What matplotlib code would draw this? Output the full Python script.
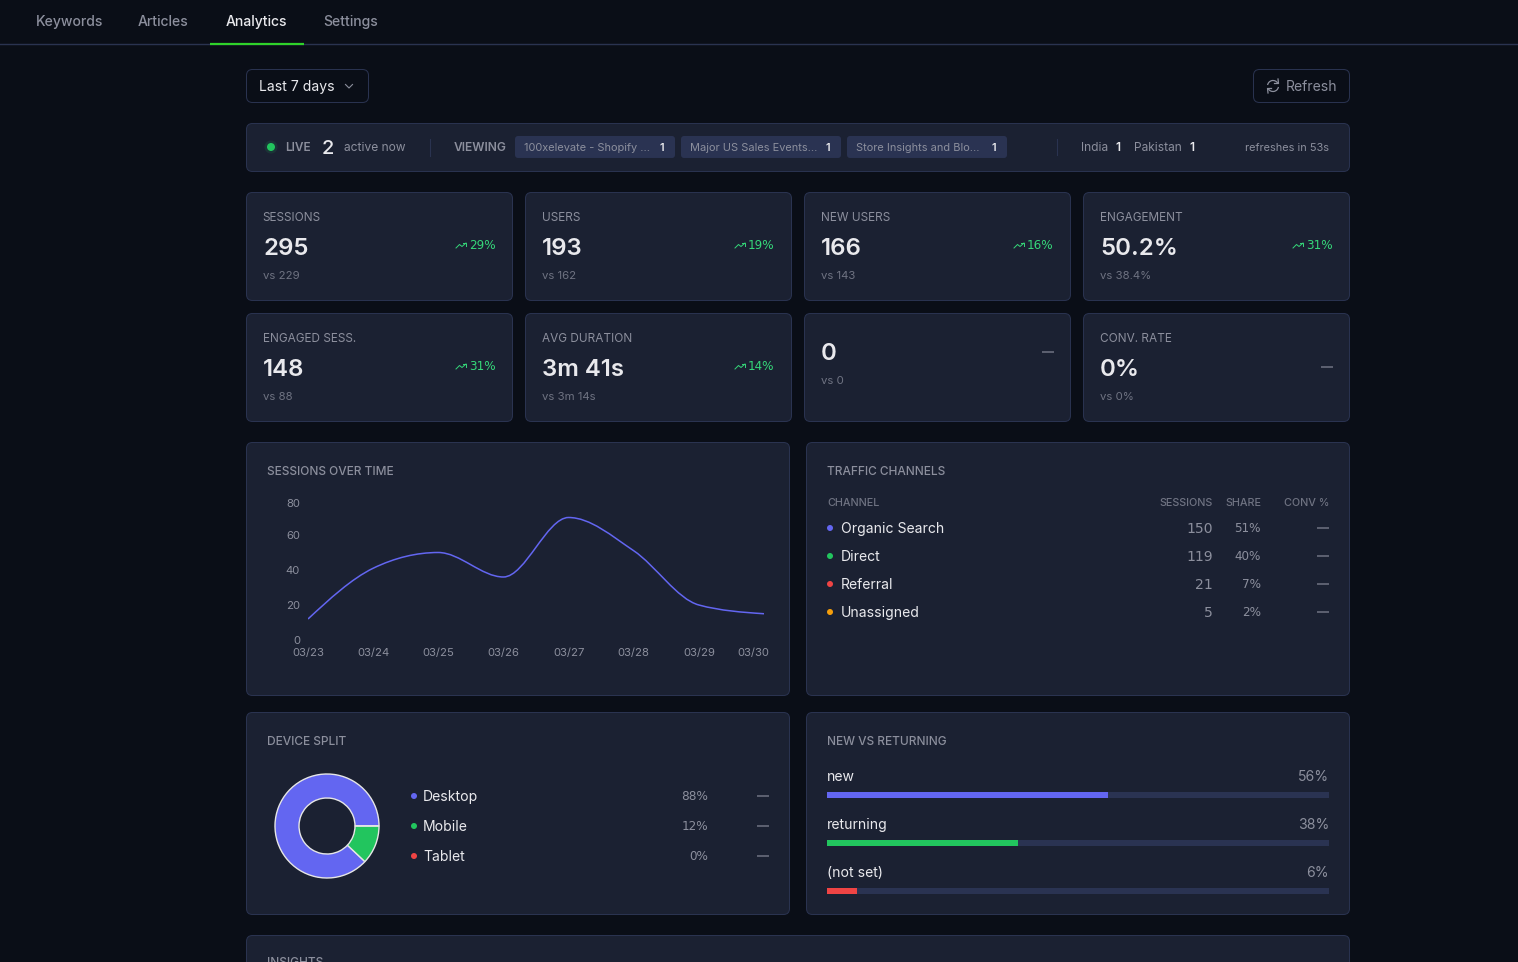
import matplotlib
matplotlib.use('Agg')
import matplotlib.pyplot as plt
from matplotlib.patches import FancyBboxPatch, Circle, Arc
from matplotlib.path import Path
from matplotlib.patches import PathPatch
from matplotlib.transforms import ScaledTranslation

plt.rcParams['font.family'] = ['Inter', 'DejaVu Sans']

# data
tabs = ['Keywords', 'Articles', 'Analytics', 'Settings']
kpi_labels = ['SESSIONS', 'USERS', 'NEW USERS', 'ENGAGEMENT', 'ENGAGED SESS.', 'AVG DURATION', '', 'CONV. RATE']
kpi_values = ['295', '193', '166', '50.2%', '148', '3m 41s', '0', '0%']
kpi_prev = ['vs 229', 'vs 162', 'vs 143', 'vs 38.4%', 'vs 88', 'vs 3m 14s', 'vs 0', 'vs 0%']
kpi_delta = ['29%', '19%', '16%', '31%', '31%', '14%', None, None]

days = ['03/23', '03/24', '03/25', '03/26', '03/27', '03/28', '03/29', '03/30']
sessions = [12, 41, 50, 36, 70, 51, 20, 15]
y_ticks = [0, 20, 40, 60, 80]

channels = ['Organic Search', 'Direct', 'Referral', 'Unassigned']
channel_sessions = [150, 119, 21, 5]
channel_share = ['51%', '40%', '7%', '2%']

devices = ['Desktop', 'Mobile', 'Tablet']
device_share = [88, 12, 0]

visitor_types = ['new', 'returning', '(not set)']
visitor_share = [56, 38, 6]

pages = ['100xelevate - Shopify ...', 'Major US Sales Events...', 'Store Insights and Blo...']
page_counts = [1, 1, 1]

BG = '#0a0e17'
CARD = '#1b2132'
BORDER = '#2a3350'
WHITE = '#e9e9ed'
MUTED = '#8c8f9d'
DIM = '#6f7382'
PURPLE = '#6366f1'
GREEN = '#22c55e'
RED = '#ef4444'
AMBER = '#f59e0b'
series_colors = [PURPLE, GREEN, RED, AMBER]

W, H = 1518, 962
fig = plt.figure(figsize=((W + 0.01) / 100, (H + 0.01) / 100), dpi=100, facecolor=BG)
ax = fig.add_axes([0, 0, 1, 1])
ax.set_xlim(0, W)
ax.set_ylim(H, 0)
ax.axis('off')


def px(size):
    return size * 0.72


def label(x, y, s, size=12, color=WHITE, ha='left', weight='normal', family=None):
    # baseline placement so descenders don't move the text around
    ax.text(x, y + 0.3635 * size, s, fontsize=px(size), color=color, ha=ha, va='baseline',
            fontweight=weight, family=family)


def box(x0, y0, x1, y1, fc=CARD, ec=BORDER, r=6, lw=1):
    ax.add_patch(FancyBboxPatch((x0, y0), x1 - x0, y1 - y0, boxstyle=f'round,pad=0,rounding_size={r}',
                                fc=fc, ec=ec, lw=lw * 0.72))


def inset(x0, y0, x1, y1):
    a = fig.add_axes([x0 / W, 1 - y1 / H, (x1 - x0) / W, (y1 - y0) / H])
    a.patch.set_alpha(0)
    return a


def dash(x0, x1, y):
    ax.plot([x0, x1], [y, y], color=DIM, lw=1.1, solid_capstyle='butt')


# top nav
tab_x = [36, 138, 226, 323]
for t, x in zip(tabs, tab_x):
    label(x, 21, t, 14, WHITE if t == 'Analytics' else MUTED, weight='medium')
ax.plot([0, W], [44.5, 44.5], color=BORDER, lw=1)
ax.plot([210, 304], [44, 44], color='#2fd22a', lw=1.6, solid_capstyle='butt')

# date picker and refresh
box(246.5, 69.5, 368.5, 102.5, fc=BG)
label(259, 86, 'Last 7 days', 14)
ax.plot([345.5, 349, 352.5], [84.5, 88, 84.5], color=MUTED, lw=0.8)
box(1253.5, 69.5, 1349.5, 102.5, fc=BG)
label(1286, 86, 'Refresh', 14, MUTED)
ax.add_patch(Arc((1273, 86), 11, 11, theta1=190, theta2=330, color=MUTED, lw=0.9))
ax.add_patch(Arc((1273, 86), 11, 11, theta1=10, theta2=150, color=MUTED, lw=0.9))
ax.plot([1278, 1278.5, 1274.5], [79, 83.5, 83.5], color=MUTED, lw=0.9)
ax.plot([1268, 1267.5, 1271.5], [93, 88.5, 88.5], color=MUTED, lw=0.9)

# live strip
box(246.5, 123.5, 1349.5, 171.5)
ax.add_patch(Circle((271, 147), 6.5, fc=GREEN, alpha=0.12, ec='none'))
ax.add_patch(Circle((271, 147), 4, fc=GREEN, ec='none'))
label(285, 147, 'LIVE', 11.8, MUTED, weight='semibold')
label(322, 147, '2', 20, WHITE, weight='medium')
label(344, 147, 'active now', 12, MUTED)
ax.plot([429.5, 429.5], [139, 156], color=BORDER, lw=0.8)
label(454, 147, 'VIEWING', 12, MUTED, weight='semibold')
for i, (p, c) in enumerate(zip(pages, page_counts)):
    x0 = 515 + i * 166
    box(x0, 136, x0 + 160, 158, fc='#2a3352', ec='none', r=3)
    label(x0 + 8.5, 147, p, 11, MUTED)
    label(x0 + 149, 147, str(c), 11, WHITE, ha='right', weight='semibold')
ax.plot([1056.5, 1056.5], [139, 155], color=BORDER, lw=0.8)
label(1081, 147, 'India', 12, MUTED)
label(1118, 147, '1', 12, WHITE, ha='center', weight='semibold')
label(1134, 147, 'Pakistan', 12, MUTED)
label(1192, 147, '1', 12, WHITE, ha='center', weight='semibold')
label(1329, 147, 'refreshes in 53s', 11, MUTED, ha='right')

# kpi cards
card_x = [246.5, 525.5, 804.5, 1083.5]
card_y = [192.5, 313.5]
for i in range(8):
    x0 = card_x[i % 4]
    y0 = card_y[i // 4]
    box(x0, y0, x0 + 266, y0 + 108)
    has_label = kpi_labels[i] != ''
    vy = y0 + 54 if has_label else y0 + 37.5
    py = y0 + 82.5 if has_label else y0 + 66.5
    if has_label:
        label(x0 + 16, y0 + 24.5, kpi_labels[i], 11.8, MUTED)
    label(x0 + 16.5, vy, kpi_values[i], 24, WHITE, weight='semibold')
    label(x0 + 16.5, py, kpi_prev[i], 11.4, DIM)
    if kpi_delta[i]:
        label(x0 + 249, vy - 2, kpi_delta[i], 12, '#35d779', ha='right', family='DejaVu Sans')
        ix = x0 + 209.5
        iy = vy - 1
        ax.plot([ix, ix + 3.5, ix + 6, ix + 10], [iy + 2.5, iy - 1, iy + 1, iy - 2.5], color='#35d779', lw=0.7)
        ax.plot([ix + 7, ix + 10, ix + 10], [iy - 2.5, iy - 2.5, iy + 0.5], color='#35d779', lw=0.7)
    else:
        dash(x0 + 237, x0 + 249, vy + 1 if not has_label else vy)

# sessions over time
box(246.5, 442.5, 789.5, 695.5)
label(267, 471, 'SESSIONS OVER TIME', 11.9, MUTED, weight='medium')
lc = inset(308, 500, 764, 640)
lc.set_xlim(0, len(days) - 1)
lc.set_ylim(0, 80)

# monotone cubic through the daily values, same curve type the dashboard uses
xs = list(range(len(sessions)))
slopes = [sessions[i + 1] - sessions[i] for i in range(len(sessions) - 1)]
tang = [0]
for a, b in zip(slopes[:-1], slopes[1:]):
    tang.append(0 if a * b <= 0 else (1 if a > 0 else -1) * min(2 * abs(a), 2 * abs(b), abs(a + b) / 2))
tang.append((3 * slopes[-1] - tang[-1]) / 2)
tang[0] = (3 * slopes[0] - tang[1]) / 2
verts = [(xs[0], sessions[0])]
codes = [Path.MOVETO]
for i in range(len(xs) - 1):
    verts += [(xs[i] + 1 / 3, sessions[i] + tang[i] / 3),
              (xs[i + 1] - 1 / 3, sessions[i + 1] - tang[i + 1] / 3),
              (xs[i + 1], sessions[i + 1])]
    codes += [Path.CURVE4] * 3
lc.add_patch(PathPatch(Path(verts, codes), fc='none', ec=PURPLE, lw=1.1))

lc.set_xticks(xs, days)
lc.set_yticks(y_ticks)
lc.tick_params(length=0, labelsize=px(11.3), labelcolor=MUTED)
lc.tick_params(axis='x', pad=px(8))
lc.tick_params(axis='y', pad=px(8))
for s in lc.spines.values():
    s.set_visible(False)
top = lc.get_yticklabels()[-1]
top.set_transform(top.get_transform() + ScaledTranslation(0, -3 / 100, fig.dpi_scale_trans))
last = lc.get_xticklabels()[-1]
last.set_ha('right')
last.set_transform(last.get_transform() + ScaledTranslation(5 / 100, 0, fig.dpi_scale_trans))

# traffic channels
box(806.5, 442.5, 1349.5, 695.5)
label(827, 471, 'TRAFFIC CHANNELS', 11.9, MUTED, weight='medium')
label(827, 502, 'CHANNEL', 10.8, DIM, weight='medium')
label(1213, 502, 'SESSIONS', 10.8, DIM, ha='right', weight='medium')
label(1261, 502, 'SHARE', 10.8, DIM, ha='right', weight='medium')
label(1329, 502, 'CONV %', 10.8, DIM, ha='right', weight='medium')
for i, ch in enumerate(channels):
    y = 528 + i * 28
    ax.add_patch(Circle((830, y), 3, fc=series_colors[i], ec='none'))
    label(841, y, ch, 14, WHITE)
    # Inter here has proportional digits, the page uses tabular ones
    label(1213, y, str(channel_sessions[i]), 14, MUTED, ha='right', family='DejaVu Sans')
    label(1261, y, channel_share[i], 12, MUTED, ha='right', family='DejaVu Sans')
    dash(1317, 1329, y)

# device split
box(246.5, 712.5, 789.5, 914.5)
label(267, 741, 'DEVICE SPLIT', 11.9, MUTED, weight='medium')
dc = inset(267, 766, 387, 886)
dc.pie(device_share, colors=series_colors[:3], startangle=0, radius=52 / 60,
       wedgeprops=dict(width=24 / 60, edgecolor='#e6e6e6', linewidth=1))
dc.set_xlim(-1, 1)
dc.set_ylim(-1, 1)
for i, d in enumerate(devices):
    y = 796 + i * 30
    ax.add_patch(Circle((414, y), 3, fc=series_colors[i], ec='none'))
    label(423, y, d, 14, WHITE)
    label(708, y, f'{device_share[i]}%', 12, MUTED, ha='right', family='DejaVu Sans')
    dash(757, 769, y)

# new vs returning
box(806.5, 712.5, 1349.5, 914.5)
label(827, 741, 'NEW VS RETURNING', 11.9, MUTED, weight='medium')
bc = inset(827, 771, 1329, 915)
bc.set_xlim(0, 100)
bc.set_ylim(len(visitor_types) - 0.5, -0.5)
bc.axis('off')
rows = list(range(len(visitor_types)))
bc.barh(rows, [100] * len(rows), height=6 / 48, color='#2a3352')
bc.barh(rows, visitor_share, height=6 / 48, color=series_colors[:3])
for i, v in enumerate(visitor_types):
    y = 776 + i * 48
    label(827, y, v, 14, WHITE)
    label(1329, y, f'{visitor_share[i]}%', 14, MUTED, ha='right')

# insights card, cut off by the bottom of the page
box(246.5, 935.5, 1349.5, 990)
label(267, 962, 'INSIGHTS', 11.9, MUTED, weight='medium')

fig.savefig('out.png', dpi=100, facecolor=BG)
